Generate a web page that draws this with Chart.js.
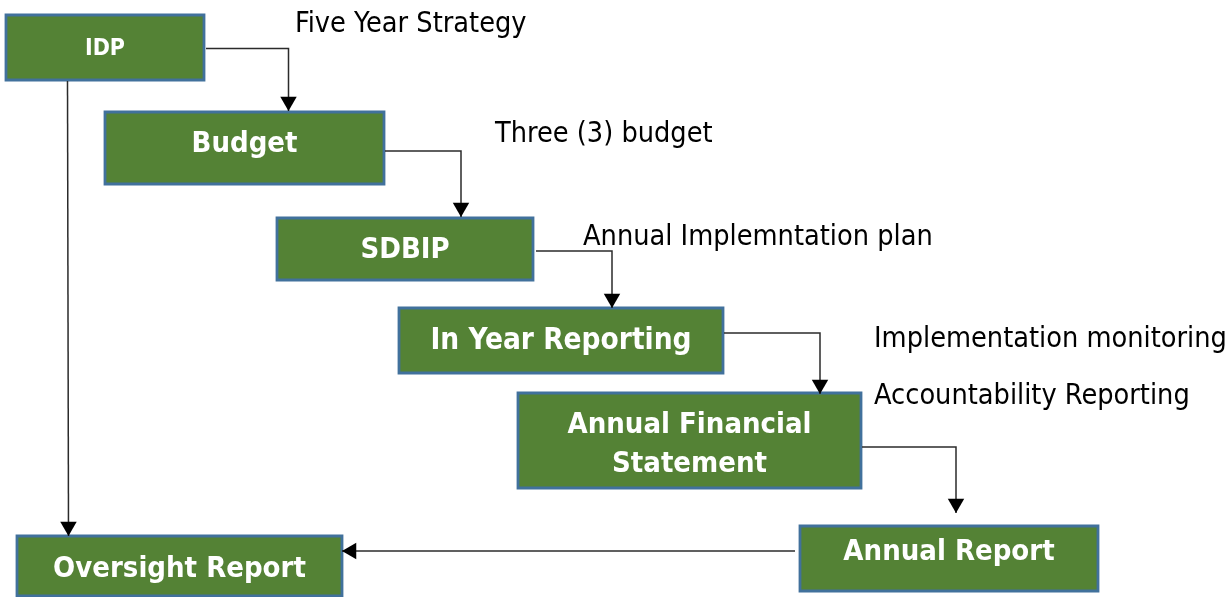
<!DOCTYPE html>
<html>
<head>
<meta charset="utf-8">
<script src="https://cdn.jsdelivr.net/npm/chart.js@4.4.0/dist/chart.umd.min.js"></script>
<style>
  html, body { margin: 0; padding: 0; background: #ffffff; }
  #wrap { width: 1228px; height: 597px; position: relative; }
</style>
</head>
<body>
<div id="wrap"><canvas id="c"></canvas></div>
<script>
// ---- Flowchart data (diagram units = pixels of the reference) ----
const boxLabels   = [["IDP"], ["Budget"], ["SDBIP"], ["In Year Reporting"], ["Annual Financial", "Statement"], ["Annual Report"], ["Oversight Report"]];
const boxLeft     = [6, 105, 277, 399, 518, 800, 17];
const boxRight    = [204, 384, 533, 723, 861, 1098, 342];
const boxTop      = [15, 112, 218, 308, 393, 526, 536];
const boxBottom   = [80, 184, 280, 373, 488, 591, 596];
const boxTextBase = [[55], [152], [258], [349], [433, 472], [560], [577]];
const boxFontSize = [23, 29, 29, 29.5, 29, 29, 29];

const noteTexts = ["Five Year Strategy", "Three (3) budget", "Annual Implemntation plan", "Implementation monitoring", "Accountability Reporting"];
const noteX     = [295, 495, 583, 874, 874];
const noteBase  = [32, 142, 245, 347, 404];

// connectors: polylines, last point is the arrow tip
const connectors = [
  [[206, 48.5], [288.5, 48.5], [288.5, 111]],
  [[385, 151], [461, 151], [461, 217]],
  [[536, 251], [612, 251], [612, 308]],
  [[724, 333], [820, 333], [820, 394]],
  [[862, 447], [956, 447], [956, 513]],
  [[795, 551], [342, 551]],
  [[67.5, 81], [68.5, 536]]
];
const arrowSize = 9.5;

// ---- Build datasets ----
const GREEN = '#548235', BLUE = '#41719C', LINE = '#2b2b2b';
const datasets = [];
boxLabels.forEach((_, i) => {
  datasets.push({
    data: [{x: boxLeft[i], y: boxTop[i]}, {x: boxRight[i], y: boxTop[i]}],
    fill: {value: boxBottom[i]}, backgroundColor: GREEN, borderWidth: 0,
    pointRadius: 0, tension: 0, clip: false, order: 4
  });
  datasets.push({
    data: [{x: boxLeft[i], y: boxTop[i]}, {x: boxRight[i], y: boxTop[i]}, {x: boxRight[i], y: boxBottom[i]},
           {x: boxLeft[i], y: boxBottom[i]}, {x: boxLeft[i], y: boxTop[i]}, {x: boxRight[i], y: boxTop[i]}],
    fill: false, borderColor: BLUE, borderWidth: 2.8, pointRadius: 0, tension: 0, clip: false,
    borderJoinStyle: 'miter', order: 3
  });
});
const arrowPts = [], arrowRot = [];
connectors.forEach(c => {
  datasets.push({
    data: c.map(p => ({x: p[0], y: p[1]})),
    fill: false, borderColor: LINE, borderWidth: 1.5, pointRadius: 0, tension: 0, clip: false, order: 2
  });
  const a = c[c.length - 2], b = c[c.length - 1];
  const dx = b[0] - a[0], dy = b[1] - a[1];
  const len = Math.hypot(dx, dy);
  arrowPts.push({x: b[0] - dx / len * arrowSize, y: b[1] - dy / len * arrowSize});
  // rotation: 0 = pointing up (screen); down = 180, left = 270
  arrowRot.push(Math.atan2(dx, -dy) * 180 / Math.PI);
});
datasets.push({
  data: arrowPts, showLine: false, pointStyle: 'triangle', pointRadius: arrowSize,
  pointRotation: arrowRot, pointBackgroundColor: '#000', pointBorderWidth: 0, clip: false, order: 1
});

const textPlugin = {
  id: 'diagramText',
  afterDatasetsDraw(chart) {
    const ctx = chart.ctx, xs = chart.scales.x, ys = chart.scales.y;
    ctx.save();
    ctx.textBaseline = 'alphabetic';
    ctx.fillStyle = '#ffffff';
    ctx.textAlign = 'center';
    boxLabels.forEach((lines, i) => {
      ctx.font = 'bold ' + boxFontSize[i] + 'px "DejaVu Sans Condensed", "DejaVu Sans", sans-serif';
      const cx = xs.getPixelForValue((boxLeft[i] + boxRight[i]) / 2);
      lines.forEach((t, j) => ctx.fillText(t, cx, ys.getPixelForValue(boxTextBase[i][j])));
    });
    ctx.fillStyle = '#000000';
    ctx.textAlign = 'left';
    ctx.font = '28.6px "DejaVu Sans Condensed", "DejaVu Sans", sans-serif';
    noteTexts.forEach((t, i) => ctx.fillText(t, xs.getPixelForValue(noteX[i]), ys.getPixelForValue(noteBase[i])));
    ctx.restore();
  }
};

new Chart(document.getElementById('c'), {
  type: 'line',
  data: {datasets},
  options: {
    responsive: true, maintainAspectRatio: false, animation: false, events: [],
    layout: {padding: 0, autoPadding: false},
    plugins: {legend: {display: false}, tooltip: {enabled: false}, title: {display: false}},
    scales: {
      x: {type: 'linear', min: 0, max: 1228, display: false},
      y: {type: 'linear', min: 0, max: 597, reverse: true, display: false}
    }
  },
  plugins: [textPlugin]
});
</script>
</body>
</html>
